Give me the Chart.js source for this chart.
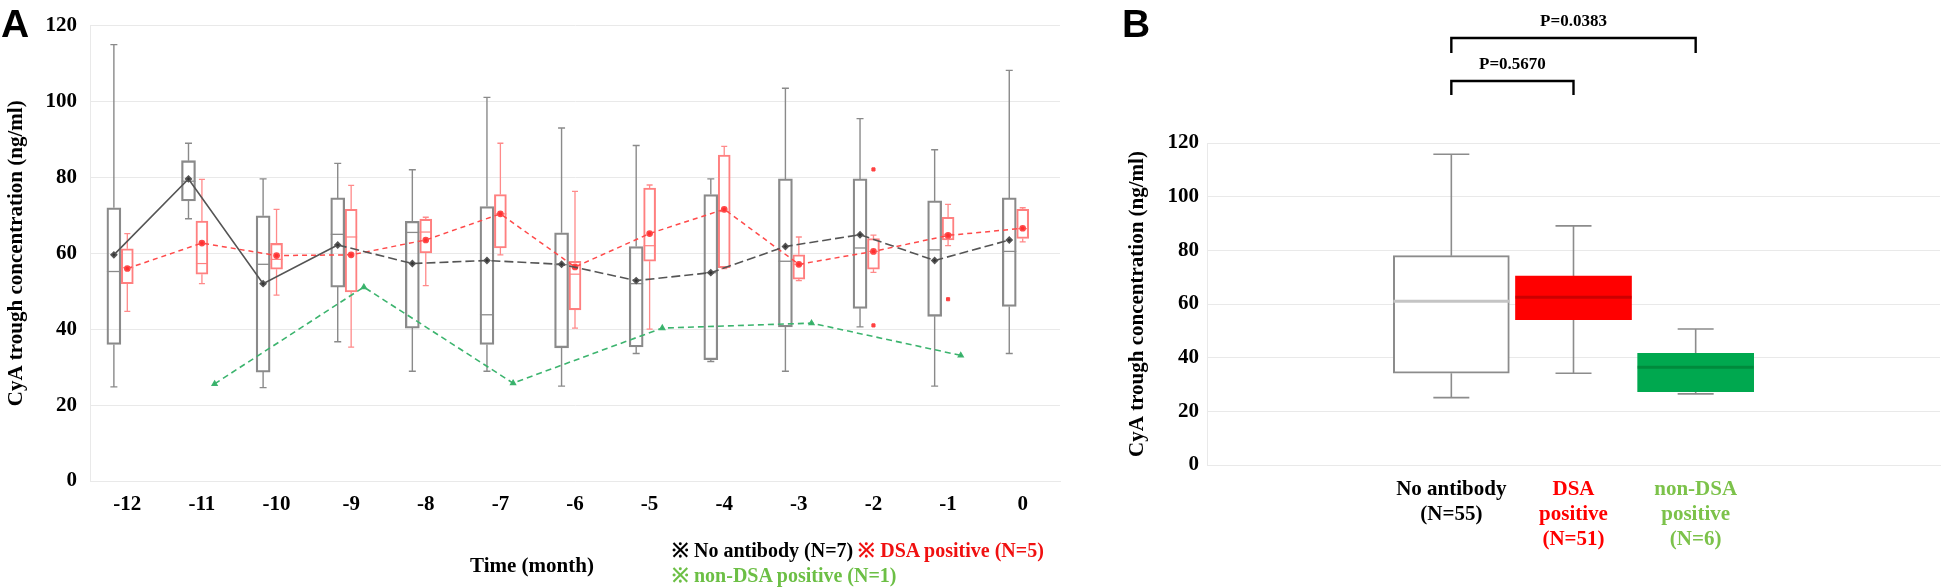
<!DOCTYPE html>
<html><head><meta charset="utf-8">
<script src="https://cdn.jsdelivr.net/npm/chart.js@4/dist/chart.umd.min.js"></script>
<style>
html,body{margin:0;padding:0;background:#fff;}
body{width:1960px;height:588px;overflow:hidden;position:relative;font-family:'Liberation Serif','Times New Roman',serif;}
#wrapA{position:absolute;left:0;top:0;width:1080px;height:588px;}
#wrapB{position:absolute;left:1090px;top:0;width:870px;height:588px;}
.panel{position:absolute;font-family:'Liberation Sans',Arial,sans-serif;font-weight:bold;font-size:39px;line-height:1;}
.txt{position:absolute;font-weight:bold;font-size:21px;white-space:nowrap;line-height:1;}
.leg{font-size:20px;}
</style></head><body>
<div id="wrapA"><canvas id="cA" width="1080" height="588"></canvas></div>
<div id="wrapB"><canvas id="cB" width="870" height="588"></canvas></div>
<div class="panel" style="left:1px;top:4px;">A</div>
<div class="panel" style="left:1122px;top:4px;">B</div>
<div class="txt" style="left:532px;top:565px;transform:translate(-50%,-50%);">Time (month)</div>
<div class="txt leg" style="left:672px;top:550px;transform:translateY(-50%);"><span style="color:#000">※ No antibody (N=7)</span> <span style="color:#f01010">※ DSA positive (N=5)</span></div>
<div class="txt leg" style="left:672px;top:575px;transform:translateY(-50%);color:#6cbf45;">※ non-DSA positive (N=1)</div>
<script>
// ---------- Panel A data ----------
const months = [-12,-11,-10,-9,-8,-7,-6,-5,-4,-3,-2,-1,0];
const monthLabels = ['-12','-11','-10','-9','-8','-7','-6','-5','-4','-3','-2','-1','0'];
// No antibody (N=7)
const noAbMin  = [24.8,69.1,24.6,36.7,28.9,28.9,25.0,33.6,31.5,28.9,40.6,25.0,33.6];
const noAbQ1   = [36.0,73.8,28.7,51.1,40.3,36.0,35.1,35.3,32.0,40.6,45.5,43.4,46.0];
const noAbMed  = [55.2,79.0,57.1,65.0,65.5,43.8,57.0,52.0,54.9,57.9,61.4,60.9,60.5];
const noAbQ3   = [72.0,84.4,69.9,74.6,68.4,72.3,65.4,61.8,75.5,79.6,79.6,73.8,74.6];
const noAbMax  = [115.0,89.0,79.6,83.7,82.0,101.1,93.0,88.4,79.6,103.5,95.5,87.3,108.2];
const noAbMean = [59.6,79.6,52.0,62.2,57.3,58.1,57.1,52.8,54.9,61.8,64.9,58.1,63.5];
// DSA positive (N=5)
const dsaMin  = [44.7,52.0,49.0,35.3,51.5,59.6,40.3,40.0,56.0,52.8,55.0,62.0,63.0];
const dsaQ1   = [52.0,54.5,55.8,49.8,60.1,61.4,45.1,57.9,56.2,53.2,55.8,63.5,63.9];
const dsaMed  = [56.2,57.3,58.4,64.3,65.6,70.4,54.5,62.0,71.0,57.1,60.5,65.0,66.5];
const dsaQ3   = [61.2,68.5,62.6,71.6,69.0,75.5,57.9,77.2,85.9,59.6,63.9,69.5,71.6];
const dsaMax  = [65.2,79.5,71.6,77.9,69.5,89.0,76.3,78.0,88.2,64.3,64.8,72.9,72.0];
const dsaMean = [56.0,62.7,59.4,59.6,63.5,70.4,56.4,65.2,71.6,57.1,60.5,64.7,66.6];
const dsaOutMonth = [-2,-2,-1];
const dsaOutVal   = [82.1,41.0,47.9];
// non-DSA positive (N=1)
const nonDsaVal = [null,25.6,null,51.1,null,25.8,null,40.3,null,41.6,null,33.1,null];
const yTicksA = [0,20,40,60,80,100,120];

// ---------- Panel B data ----------
const groupPos = [1,2,3];
const groupLabels = [['No antibody','(N=55)'],['DSA','positive','(N=51)'],['non-DSA','positive','(N=6)']];
const groupMin = [25.1,34.2,26.5];
const groupQ1  = [34.2,54.2,27.3];
const groupMed = [61.0,62.5,36.4];
const groupQ3  = [78.0,70.4,41.6];
const groupMax = [115.8,89.1,50.7];
const compPairs = [[0,1],[0,2]];
const pValues = ['P=0.5670','P=0.0383'];

// ---------- styling / layout ----------
const SERIF = "'Liberation Serif','Times New Roman',serif";
const tickFont = {family:SERIF,size:21,weight:'bold'};
const shiftNoAb = -0.18, shiftDsa = 0, shiftNonDsa = 0.17;
const GRID = '#e9e9e9';

const pick = (v,i)=>Array.isArray(v)?v[i]:v;
const boxPlugin = {
  id:'boxWhiskers',
  beforeDatasetsDraw(chart){
    const ctx = chart.ctx, ys = chart.scales.y;
    chart.data.datasets.forEach((ds,di)=>{
      if(!ds.whisk) return;
      const meta = chart.getDatasetMeta(di), w = ds.whisk;
      ctx.save(); ctx.strokeStyle = w.color; ctx.lineWidth = w.width; ctx.setLineDash([]);
      meta.data.forEach((el,i)=>{
        const x = el.x;
        const pMin = ys.getPixelForValue(w.min[i]), pMax = ys.getPixelForValue(w.max[i]);
        const pQ1 = ys.getPixelForValue(ds.data[i].y[0]), pQ3 = ys.getPixelForValue(ds.data[i].y[1]);
        ctx.beginPath();
        ctx.moveTo(x,pQ1); ctx.lineTo(x,pMin);
        ctx.moveTo(x,pQ3); ctx.lineTo(x,pMax);
        ctx.moveTo(x-w.cap/2,pMin); ctx.lineTo(x+w.cap/2,pMin);
        ctx.moveTo(x-w.cap/2,pMax); ctx.lineTo(x+w.cap/2,pMax);
        ctx.stroke();
      });
      ctx.restore();
    });
  },
  afterDatasetDraw(chart,args){
    const ds = chart.data.datasets[args.index];
    if(!ds.whisk) return;
    const ctx = chart.ctx, ys = chart.scales.y, w = ds.whisk;
    ctx.save(); ctx.lineWidth = w.medWidth; ctx.setLineDash([]);
    args.meta.data.forEach((el,i)=>{
      const p = ys.getPixelForValue(w.med[i]);
      const hw = el.width/2;
      ctx.strokeStyle = pick(w.medColor,i);
      ctx.beginPath(); ctx.moveTo(el.x-hw,p); ctx.lineTo(el.x+hw,p); ctx.stroke();
    });
    ctx.restore();
  }
};

// ---------- Chart A ----------
new Chart(document.getElementById('cA'),{
  type:'bar',
  data:{datasets:[
    {type:'line',label:'No antibody mean',order:0,
     data:months.map((m,i)=>({x:m+shiftNoAb,y:noAbMean[i]})),
     borderColor:'#555',backgroundColor:'#333',borderWidth:1.6,pointRadius:2.8,pointStyle:'rectRot',
     segment:{borderDash:c=>c.p0DataIndex>=3?[9,4]:undefined}},
    {type:'line',label:'DSA mean',order:0,
     data:months.map((m,i)=>({x:m+shiftDsa,y:dsaMean[i]})),
     borderColor:'#ff4a4a',backgroundColor:'#ff3030',borderWidth:1.5,borderDash:[5,4],pointRadius:2.6},
    {type:'line',label:'non-DSA',order:0,spanGaps:true,
     data:months.map((m,i)=>({x:m+shiftNonDsa,y:nonDsaVal[i]})),
     borderColor:'#3cb46e',backgroundColor:'#2fa862',borderWidth:1.6,borderDash:[6,4],pointRadius:2.6,pointStyle:'triangle'},
    {type:'line',label:'DSA outliers',order:0,showLine:false,
     data:dsaOutMonth.map((m,i)=>({x:m+shiftDsa,y:dsaOutVal[i]})),
     borderColor:'#ff4040',backgroundColor:'#ff4040',pointRadius:2.2,pointStyle:'rect'},
    {label:'No antibody',order:2,grouped:false,barThickness:14,
     data:months.map((m,i)=>({x:m+shiftNoAb,y:[noAbQ1[i],noAbQ3[i]]})),
     backgroundColor:'rgba(255,255,255,0)',borderColor:'#8a8a8a',borderWidth:1.6,borderSkipped:false,
     whisk:{min:noAbMin,max:noAbMax,med:noAbMed,color:'#8a8a8a',width:1.4,cap:7,medColor:'#8a8a8a',medWidth:1.3}},
    {label:'DSA positive',order:1,grouped:false,barThickness:12,
     data:months.map((m,i)=>({x:m+shiftDsa,y:[dsaQ1[i],dsaQ3[i]]})),
     backgroundColor:'rgba(255,255,255,0)',borderColor:'#ff8080',borderWidth:1.4,borderSkipped:false,
     whisk:{min:dsaMin,max:dsaMax,med:dsaMed,color:'#ff8a8a',width:1.3,cap:6,medColor:'#ff8080',medWidth:1.2}}
  ]},
  options:{
    responsive:false,animation:false,events:[],
    layout:{padding:{left:0,right:20,top:16,bottom:0}},
    plugins:{legend:{display:false},tooltip:{enabled:false}},
    scales:{
      x:{type:'linear',min:-12.5,max:0.5,offset:false,
         afterBuildTicks:s=>{s.ticks=months.map(v=>({value:v}));},
         ticks:{callback:(v,i)=>monthLabels[i],font:tickFont,color:'#000',padding:11,autoSkip:false,maxRotation:0},
         grid:{display:false,drawTicks:false},border:{display:true,color:GRID},
         afterFit:s=>{s.height=107;}},
      y:{min:0,max:120,
         afterBuildTicks:s=>{s.ticks=yTicksA.map(v=>({value:v}));},
         ticks:{font:tickFont,color:'#000',padding:13},
         grid:{color:GRID,drawTicks:false},border:{display:true,color:GRID},
         title:{display:true,text:'CyA trough concentration (ng/ml)',font:tickFont,color:'#000',padding:{top:4,bottom:0}},
         afterFit:s=>{s.width=90;}}
    }
  },
  plugins:[boxPlugin]
});

// ---------- Chart B ----------
const groupColors = ['#000','#ff0000','#7cc24a'];
const bracketPlugin = {
  id:'brackets',
  afterDraw(chart){
    const ctx = chart.ctx, xs = chart.scales.x;
    const rows = [{yLine:81,yEnd:95,yText:65},{yLine:38,yEnd:53,yText:22}];
    compPairs.forEach((pr,k)=>{
      const x1 = xs.getPixelForValue(groupPos[pr[0]]), x2 = xs.getPixelForValue(groupPos[pr[1]]);
      const r = rows[k];
      ctx.save();
      ctx.strokeStyle='#000'; ctx.lineWidth=2.4;
      ctx.beginPath();
      ctx.moveTo(x1,r.yEnd); ctx.lineTo(x1,r.yLine); ctx.lineTo(x2,r.yLine); ctx.lineTo(x2,r.yEnd);
      ctx.stroke();
      ctx.fillStyle='#000'; ctx.font="bold 17px "+SERIF; ctx.textAlign='center'; ctx.textBaseline='middle';
      ctx.fillText(pValues[k],(x1+x2)/2,r.yText);
      ctx.restore();
    });
  }
};
new Chart(document.getElementById('cB'),{
  type:'bar',
  data:{datasets:[
    {label:'groups',grouped:false,barThickness:116,
     data:groupPos.map((p,i)=>({x:p,y:[groupQ1[i],groupQ3[i]]})),
     backgroundColor:['#ffffff','#ff0000','#00a84f'],
     borderColor:['#8c8c8c','#ff0000','#00a84f'],borderWidth:[2,0,0],borderSkipped:false,
     whisk:{min:groupMin,max:groupMax,med:groupMed,color:'#8c8c8c',width:1.6,cap:36,
            medColor:['#c4c4c4','#cc0000','#008a3c'],medWidth:3}}
  ]},
  options:{
    responsive:false,animation:false,events:[],
    layout:{padding:{left:0,right:20,top:143,bottom:0}},
    plugins:{legend:{display:false},tooltip:{enabled:false}},
    scales:{
      x:{type:'linear',min:-1,max:5,offset:false,
         afterBuildTicks:s=>{s.ticks=groupPos.map(v=>({value:v}));},
         ticks:{callback:(v,i)=>groupLabels[i],font:{family:SERIF,size:21,weight:'bold',lineHeight:1.2},
                color:c=>groupColors[c.index],padding:12,autoSkip:false,maxRotation:0},
         grid:{display:false,drawTicks:false},border:{display:true,color:GRID},
         afterFit:s=>{s.height=123;}},
      y:{min:0,max:120,
         afterBuildTicks:s=>{s.ticks=yTicksA.map(v=>({value:v}));},
         ticks:{font:tickFont,color:'#000',padding:8},
         grid:{color:GRID,drawTicks:false},border:{display:true,color:GRID},
         title:{display:true,text:'CyA trough concentration (ng/ml)',font:tickFont,color:'#000',padding:{top:35,bottom:0}},
         afterFit:s=>{s.width=117;}}
    }
  },
  plugins:[boxPlugin,bracketPlugin]
});
</script>
</body></html>
